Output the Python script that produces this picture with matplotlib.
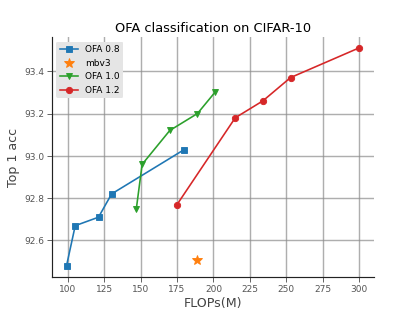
import matplotlib
matplotlib.use("Agg")
import matplotlib.pyplot as plt

# FLOPs (M) and top-1 accuracy per model family
ofa08_flops = [99, 105, 121, 130, 180]
ofa08_acc = [92.48, 92.67, 92.71, 92.82, 93.03]

mbv3_flops = [189]
mbv3_acc = [92.51]

ofa10_flops = [147, 151, 170, 189, 201]
ofa10_acc = [92.75, 92.96, 93.12, 93.20, 93.30]

ofa12_flops = [175, 215, 234, 253, 300]
ofa12_acc = [92.77, 93.18, 93.26, 93.37, 93.51]

fig, ax = plt.subplots(figsize=(6.4, 4.8), dpi=64.85)

ax.plot(ofa08_flops, ofa08_acc, marker="s", ms=7, color="#1f77b4", lw=1.8, label="OFA 0.8")
ax.plot(mbv3_flops, mbv3_acc, marker="*", ms=11, ls="none", color="#ff7f0e", label="mbv3")
ax.plot(ofa10_flops, ofa10_acc, marker="v", ms=7, color="#2ca02c", lw=1.8, label="OFA 1.0")
ax.plot(ofa12_flops, ofa12_acc, marker="o", ms=7, color="#d62728", lw=1.8, label="OFA 1.2")

ax.set_title("OFA classification on CIFAR-10", fontsize=14.5)
ax.set_xlabel("FLOPs(M)", fontsize=14, color="#444444")
ax.set_ylabel("Top 1 acc", fontsize=14, color="#444444")

ax.grid(True, color="#8c8c8c", lw=1.6, alpha=0.7)
ax.set_axisbelow(True)
for side in ("top", "right"):
    ax.spines[side].set_visible(False)
for side in ("left", "bottom"):
    ax.spines[side].set_color("#222222")
    ax.spines[side].set_linewidth(1.3)
ax.tick_params(colors="#555555", labelsize=10, length=5, width=1)

leg = ax.legend(loc="upper left", fontsize=10, frameon=True, facecolor="#e5e5e5",
                edgecolor="none", framealpha=1.0)

fig.savefig("out.png", dpi=64.85)
